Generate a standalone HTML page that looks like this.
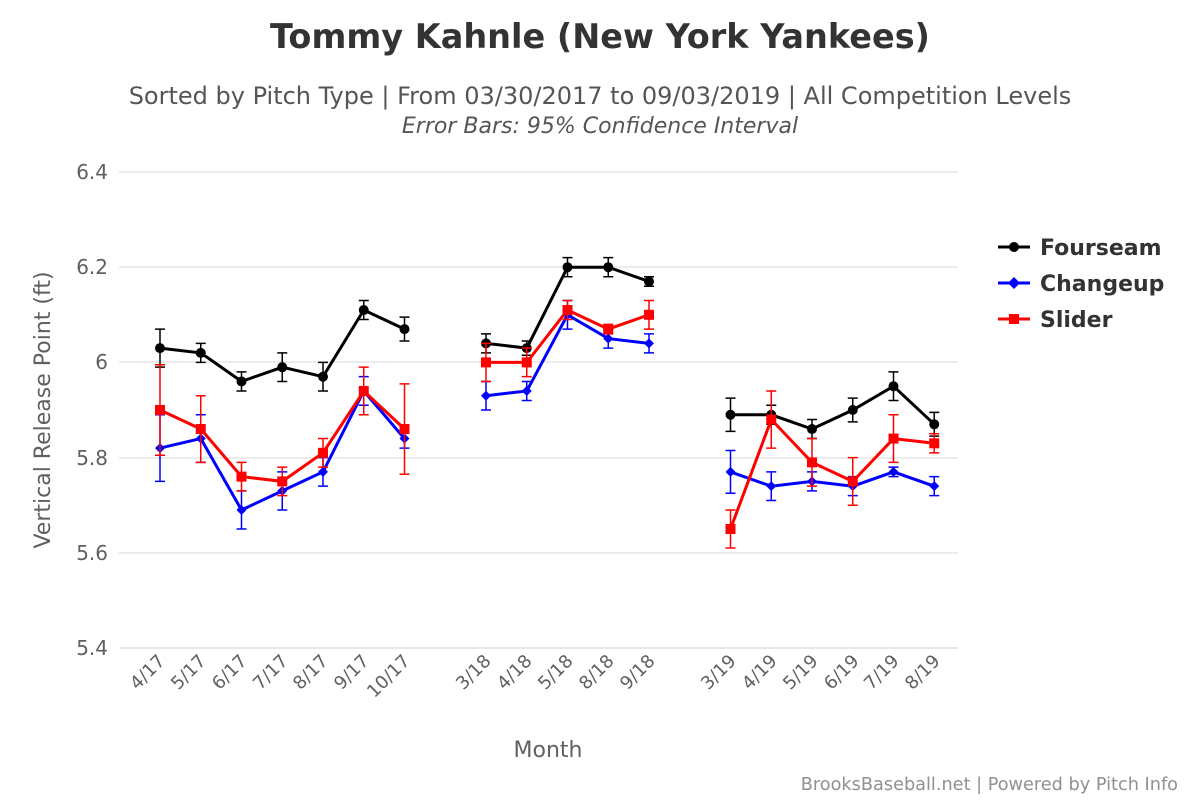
<!DOCTYPE html>
<html><head><meta charset="utf-8"><style>
body{margin:0;background:#fff;}
svg text{font-family:"DejaVu Sans","Liberation Sans",sans-serif;}
</style></head><body>
<svg id="c" width="1200" height="800" xmlns="http://www.w3.org/2000/svg">
<rect width="1200" height="800" fill="#fff"/>
<text x="600" y="48" text-anchor="middle" font-size="33.5" font-weight="bold" fill="#333">Tommy Kahnle (New York Yankees)</text>
<text x="600" y="104" text-anchor="middle" font-size="24" fill="#555">Sorted by Pitch Type | From 03/30/2017 to 09/03/2019 | All Competition Levels</text>
<text x="600" y="133" text-anchor="middle" font-size="22" font-style="italic" fill="#555">Error Bars: 95% Confidence Interval</text>
<g stroke="#d8d8d8" stroke-width="1">
<line x1="119" x2="958" y1="172" y2="172"/><line x1="119" x2="958" y1="267" y2="267"/>
<line x1="119" x2="958" y1="362" y2="362"/><line x1="119" x2="958" y1="458" y2="458"/>
<line x1="119" x2="958" y1="553" y2="553"/></g>
<line x1="119" x2="958" y1="648" y2="648" stroke="#c0d0e0"/>
<g font-size="20" fill="#606060" text-anchor="end">
<text x="108" y="179">6.4</text><text x="108" y="274">6.2</text><text x="108" y="369">6</text>
<text x="108" y="465">5.8</text><text x="108" y="560">5.6</text><text x="108" y="655">5.4</text></g>
<text transform="translate(50,410) rotate(-90)" text-anchor="middle" font-size="22" fill="#606060">Vertical Release Point (ft)</text>
<text x="548" y="757" text-anchor="middle" font-size="22" fill="#606060">Month</text>
<g font-size="18" fill="#606060" text-anchor="end">
<text transform="translate(166,662) rotate(-45)">4/17</text>
<text transform="translate(207,662) rotate(-45)">5/17</text>
<text transform="translate(248,662) rotate(-45)">6/17</text>
<text transform="translate(289,662) rotate(-45)">7/17</text>
<text transform="translate(329,662) rotate(-45)">8/17</text>
<text transform="translate(370,662) rotate(-45)">9/17</text>
<text transform="translate(411,662) rotate(-45)">10/17</text>
<text transform="translate(492,662) rotate(-45)">3/18</text>
<text transform="translate(533,662) rotate(-45)">4/18</text>
<text transform="translate(574,662) rotate(-45)">5/18</text>
<text transform="translate(615,662) rotate(-45)">8/18</text>
<text transform="translate(656,662) rotate(-45)">9/18</text>
<text transform="translate(737,662) rotate(-45)">3/19</text>
<text transform="translate(778,662) rotate(-45)">4/19</text>
<text transform="translate(819,662) rotate(-45)">5/19</text>
<text transform="translate(860,662) rotate(-45)">6/19</text>
<text transform="translate(900,662) rotate(-45)">7/19</text>
<text transform="translate(941,662) rotate(-45)">8/19</text>
</g>
<g id="series"></g>
<g font-size="22" font-weight="bold" fill="#333">
<line x1="998" x2="1030" y1="247" y2="247" stroke="#000" stroke-width="3"/><circle cx="1014" cy="247" r="5" fill="#000"/>
<text x="1040" y="255">Fourseam</text>
<line x1="998" x2="1030" y1="283" y2="283" stroke="#0000ff" stroke-width="3"/><path d="M1014 277 L1020 283 L1014 289 L1008 283Z" fill="#0000ff"/>
<text x="1040" y="291">Changeup</text>
<line x1="998" x2="1030" y1="319" y2="319" stroke="#ff0000" stroke-width="3"/><rect x="1009" y="314" width="10" height="10" fill="#ff0000"/>
<text x="1040" y="327">Slider</text>
</g>
<text x="1178" y="790" text-anchor="end" font-size="17.7" fill="#909090">BrooksBaseball.net | Powered by Pitch Info</text>
</svg>
<script>
var idx=[0,1,2,3,4,5,6,8,9,10,11,12,14,15,16,17,18,19];
function X(i){return 160+40.75*idx[i];}
function Y(v){return 648-(v-5.4)*476;}
var S=[
{c:"#000",m:"c",v:[6.03,6.02,5.96,5.99,5.97,6.11,6.07,6.04,6.03,6.20,6.20,6.17,5.89,5.89,5.86,5.90,5.95,5.87],
e:[.04,.02,.02,.03,.03,.02,.025,.02,.015,.02,.02,.01,.035,.02,.02,.025,.03,.025]},
{c:"#0000ff",m:"d",v:[5.82,5.84,5.69,5.73,5.77,5.94,5.84,5.93,5.94,6.10,6.05,6.04,5.77,5.74,5.75,5.74,5.77,5.74],
e:[.07,.05,.04,.04,.03,.03,.02,.03,.02,.03,.02,.02,.045,.03,.02,.02,.01,.02]},
{c:"#ff0000",m:"s",v:[5.90,5.86,5.76,5.75,5.81,5.94,5.86,6.00,6.00,6.11,6.07,6.10,5.65,5.88,5.79,5.75,5.84,5.83],
e:[.095,.07,.03,.03,.03,.05,.095,.04,.03,.02,.01,.03,.04,.06,.05,.05,.05,.02]}];
var g=document.getElementById("series"),h="";
S.forEach(function(s){
 var segs=[[0,6],[7,11],[12,17]];
 segs.forEach(function(r){var p=[];for(var i=r[0];i<=r[1];i++)p.push(X(i).toFixed(1)+","+Y(s.v[i]).toFixed(1));
  h+='<polyline points="'+p.join(" ")+'" fill="none" stroke="'+s.c+'" stroke-width="3"/>';});
 for(var i=0;i<18;i++){var x=X(i),t=Y(s.v[i]+s.e[i]),b=Y(s.v[i]-s.e[i]);
  h+='<path d="M'+x+' '+t+'V'+b+'M'+(x-5)+' '+t+'H'+(x+5)+'M'+(x-5)+' '+b+'H'+(x+5)+'" stroke="'+s.c+'" stroke-width="1.5" fill="none"/>';}
 for(var i=0;i<18;i++){var x=X(i),y=Y(s.v[i]);
  if(s.m=="c")h+='<circle cx="'+x+'" cy="'+y+'" r="5" fill="'+s.c+'"/>';
  else if(s.m=="d")h+='<path d="M'+x+' '+(y-5)+'L'+(x+5)+' '+y+'L'+x+' '+(y+5)+'L'+(x-5)+' '+y+'Z" fill="'+s.c+'"/>';
  else h+='<rect x="'+(x-5)+'" y="'+(y-5)+'" width="10" height="10" fill="'+s.c+'"/>';}
});
g.innerHTML=h;
</script>
</body></html>
